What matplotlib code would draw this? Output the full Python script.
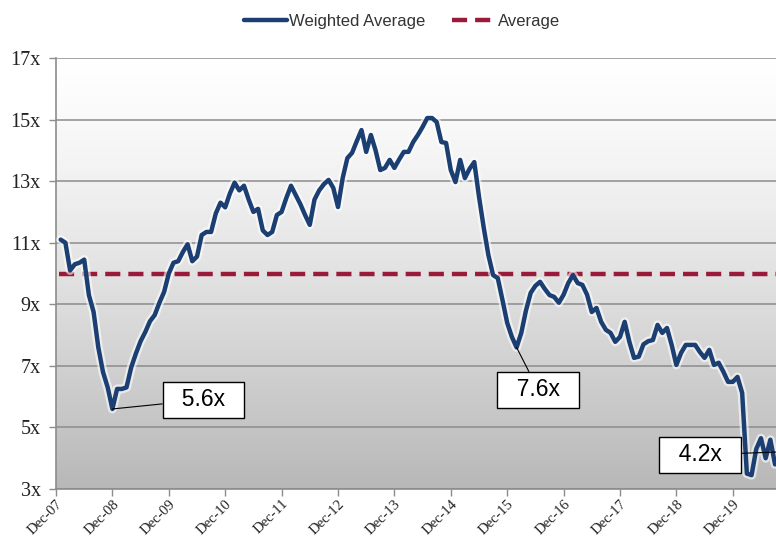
import numpy as np
import matplotlib
matplotlib.use('Agg')
import matplotlib.pyplot as plt
import matplotlib.patheffects as pe

# months since Dec-07 and EV/EBITDA multiple
months = list(range(1, 154))
weighted_avg = [
    11.1, 11.0, 10.1, 10.3, 10.35, 10.45, 9.3, 8.75, 7.6, 6.8,
    6.3, 5.6, 6.25, 6.25, 6.3, 6.95, 7.4, 7.8, 8.1, 8.45,
    8.65, 9.05, 9.4, 10.0, 10.35, 10.4, 10.7, 10.95, 10.4, 10.55,
    11.25, 11.35, 11.35, 11.95, 12.3, 12.15, 12.6, 12.95, 12.7, 12.85,
    12.4, 12.0, 12.1, 11.4, 11.25, 11.35, 11.9, 12.0, 12.45, 12.85,
    12.55, 12.25, 11.9, 11.58, 12.4, 12.7, 12.9, 13.04, 12.78, 12.16,
    13.1, 13.75, 13.92, 14.3, 14.66, 13.95, 14.5, 14.0, 13.36, 13.43,
    13.69, 13.43, 13.7, 13.95, 13.95, 14.27, 14.5, 14.76, 15.05, 15.05,
    14.92, 14.27, 14.24, 13.36, 12.97, 13.69, 13.1, 13.4, 13.62, 12.5,
    11.5, 10.6, 9.95, 9.85, 9.14, 8.4, 7.94, 7.6, 8.07, 8.8,
    9.37, 9.6, 9.73, 9.5, 9.3, 9.24, 9.05, 9.31, 9.69, 9.95,
    9.69, 9.63, 9.31, 8.75, 8.88, 8.43, 8.17, 8.07, 7.78, 7.94,
    8.43, 7.78, 7.26, 7.3, 7.7, 7.8, 7.84, 8.33, 8.07, 8.23,
    7.68, 7.03, 7.42, 7.68, 7.68, 7.68, 7.45, 7.26, 7.52, 7.03,
    7.1, 6.81, 6.48, 6.48, 6.64, 6.12, 3.5, 3.45, 4.3, 4.65,
    4.0, 4.6, 3.8,
]
average = 10.0

tick_months = list(range(0, 145, 12))
tick_labels = ['Dec-%02d' % (7 + i) for i in range(len(tick_months))]
y_ticks = [3, 5, 7, 9, 11, 13, 15, 17]

# callouts: (text, month of point, value, box centre month, box centre value)
callouts = [
    ('5.6x', 12, 5.6, 31.4, 5.9),
    ('7.6x', 98, 7.6, 102.6, 6.22),
    ('4.2x', 153.2, 4.2, 137.0, 4.11),
]

blue = '#1b3f72'
red = '#9a1a3a'

fig = plt.figure(figsize=(7.76, 5.4), dpi=100)
ax = fig.add_axes([56 / 776, 1 - 489 / 540, 1 - 56 / 776, (489 - 58) / 540])

x_max = 153.2
# gradient background (white at top, grey at bottom)
t = np.linspace(0, 1, 256).reshape(-1, 1)
shade = 1 - 0.28 * t ** 1.3
ax.imshow(np.dstack([shade, shade, shade]), extent=[0, x_max, 3, 17],
          origin='upper', aspect='auto', zorder=0)

for yv in y_ticks:
    ax.axhline(yv, color='#8c8c8c', lw=1.1, zorder=1)

ax.axhline(average, color=red, lw=3.2, dashes=(3.4, 1.8), xmin=0.004,
           label='Average', zorder=3)
ax.plot(months, weighted_avg, color=blue, lw=3.2, solid_joinstyle='round',
        solid_capstyle='round', label='Weighted Average', zorder=4,
        path_effects=[pe.Stroke(linewidth=6.5, foreground='white', alpha=0.6),
                      pe.Normal()])

for text, mx, my, bx, by in callouts:
    ax.annotate('  ' + text + '  ', xy=(mx, my), xytext=(bx, by),
                ha='center', va='center', fontsize=16.5,
                family='Liberation Sans', color='black',
                bbox=dict(boxstyle='square,pad=0.28', fc='white', ec='black', lw=1),
                arrowprops=dict(arrowstyle='-', color='black', lw=0.8,
                                shrinkA=0, shrinkB=0),
                zorder=6, annotation_clip=False)

ax.set_xlim(0, x_max)
ax.set_ylim(3, 17)
ax.set_yticks(y_ticks)
ax.set_yticklabels(['%dx' % v for v in y_ticks], family='Liberation Serif',
                   fontsize=14.5, color='#222222')
ax.set_xticks(tick_months)
ax.set_xticklabels(tick_labels, rotation=45, ha='right', rotation_mode='anchor',
                   family='Liberation Serif', fontsize=10.5, color='#222222')
ax.tick_params(axis='both', direction='out', length=5, color='#8c8c8c', width=1)
ax.tick_params(axis='y', pad=6)
ax.tick_params(axis='x', pad=1)

for side in ['top', 'right']:
    ax.spines[side].set_visible(False)
for side in ['left', 'bottom']:
    ax.spines[side].set_color('#8c8c8c')
    ax.spines[side].set_linewidth(1.2)

handles, labels = ax.get_legend_handles_labels()
order = [labels.index('Weighted Average'), labels.index('Average')]
fig.legend([handles[i] for i in order], [labels[i] for i in order],
           loc='center', bbox_to_anchor=(0.518, 0.96), ncol=2, frameon=False,
           prop={'family': 'Liberation Sans', 'size': 12}, labelcolor='#333333',
           handlelength=2.6, handletextpad=0.15, columnspacing=1.6)

fig.savefig('out.png', dpi=100)
